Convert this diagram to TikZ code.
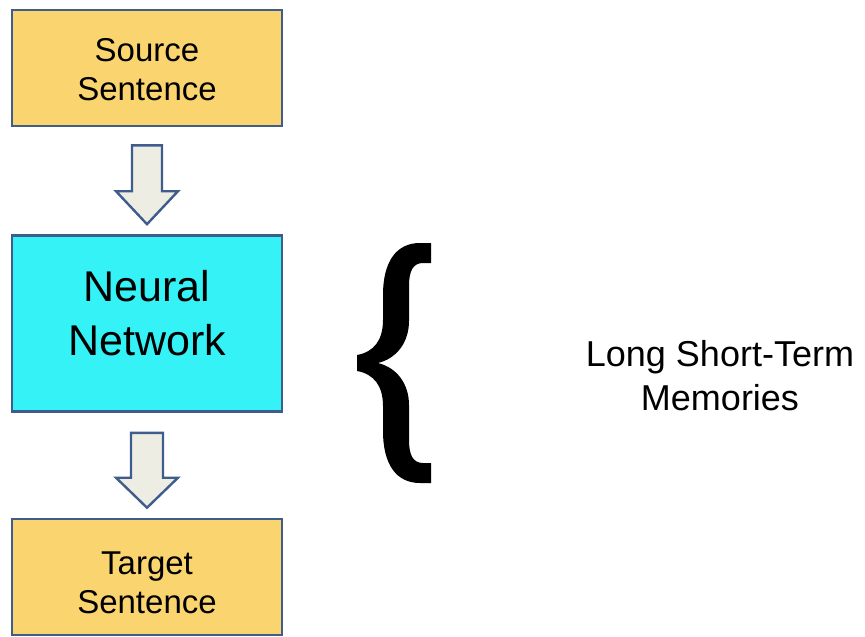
\documentclass[tikz,border=0pt]{standalone}
\usepackage{fontspec}
\setmainfont{Liberation Sans}
\usetikzlibrary{calc}
\definecolor{edgeblue}{RGB}{62,92,140}
\definecolor{sentfill}{RGB}{250,212,110}
\definecolor{netfill}{RGB}{52,242,245}
\definecolor{arrowfill}{RGB}{238,237,228}
\tikzset{
  stagebox/.style={draw=edgeblue, line width=2.6pt, inner sep=0pt},
  sentbox/.style={stagebox, fill=sentfill, minimum width=270pt, minimum height=116pt},
  netbox/.style={stagebox, fill=netfill, minimum width=270pt, minimum height=176pt},
  smalltext/.style={align=center, font=\fontsize{33}{39}\selectfont},
  bigtext/.style={align=center, font=\fontsize{43}{54}\selectfont},
  sidetext/.style={align=center, font=\fontsize{36}{44}\selectfont},
  blockarrow/.style={draw=edgeblue, fill=arrowfill, line width=2.4pt, line join=miter},
  bracefill/.style={fill=black, draw=none}
}
\begin{document}
\begin{tikzpicture}[x=1pt, y=-1pt]
\useasboundingbox (0,0) rectangle (865,637);

% pipeline boxes
\node[sentbox] (src) at (147,68) {};
\node[smalltext] (srctext) at (147,70) {Source\\Sentence};
\node[netbox] (nn) at (147,323.5) {};
\node[bigtext] (nntext) at (147,313) {Neural\\Network};
\node[sentbox] (tgt) at (147,577) {};
\node[smalltext] (tgttext) at (147,583) {Target\\Sentence};

% block arrows between the stages
\draw[blockarrow] let \p1=($(src.south)+(0,18)$), \p2=($(nn.north)+(0,-10)$) in
  (\x1-15pt,\y1) -- (\x1+15pt,\y1) -- (\x1+15pt,\y2+33pt) -- (\x1+31pt,\y2+33pt)
  -- (\x1,\y2) -- (\x1-31pt,\y2+33pt) -- (\x1-15pt,\y2+33pt) -- cycle;
\draw[blockarrow] let \p1=($(nn.south)+(0,20)$), \p2=($(tgt.north)+(0,-10)$) in
  (\x1-16pt,\y1) -- (\x1+16pt,\y1) -- (\x1+16pt,\y2+30pt) -- (\x1+31pt,\y2+30pt)
  -- (\x1,\y2) -- (\x1-31pt,\y2+30pt) -- (\x1-16pt,\y2+30pt) -- cycle;

% curly brace
\fill[bracefill] (431,243) -- (420,243) .. controls (396,243) and (383,262) .. (383,295)
  -- (383,320) .. controls (383,340) and (374,352) .. (357,355)
  -- (357,371) .. controls (374,374) and (383,386) .. (383,406)
  -- (383,431) .. controls (383,464) and (396,483) .. (420,483)
  -- (431,483) -- (431,463) -- (423,463) .. controls (413,463) and (409,455) .. (409,440)
  -- (409,405) .. controls (409,385) and (398,368) .. (378,363)
  .. controls (398,358) and (409,341) .. (409,321)
  -- (409,286) .. controls (409,271) and (413,263) .. (423,263)
  -- (431,263) -- cycle;

\node[sidetext] (lstm) at (720,376) {Long Short-Term\\Memories};
\end{tikzpicture}
\end{document}
